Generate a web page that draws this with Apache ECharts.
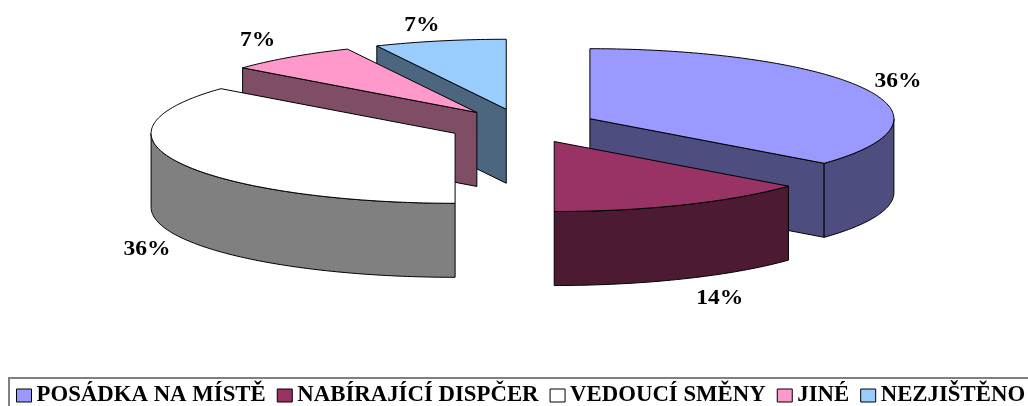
<!DOCTYPE html>
<html>
<head>
<meta charset="utf-8">
<style>html,body{margin:0;padding:0;background:#fff;overflow:hidden}#chart{width:1028px;height:406px}</style>
<script src="https://cdn.jsdelivr.net/npm/echarts@6/dist/echarts.min.js"></script>
</head>
<body>
<div id="chart"></div>
<script>
// Share of each responder category, in percent.
const categories = ['POSÁDKA NA MÍSTĚ', 'NABÍRAJÍCÍ DISPČER', 'VEDOUCÍ SMĚNY', 'JINÉ', 'NEZJIŠTĚNO'];
const shares = [36, 14, 36, 7, 7];

const topColors = ['#9999FF', '#993366', '#FFFFFF', '#FF99CC', '#99CCFF'];
const wallColors = ['#4D4D80', '#4D1A33', '#808080', '#804D66', '#4D6680'];
// Back-to-front painting order of the exploded slices.
const paintOrder = [3, 4, 2, 1, 0];
// Distance of each percentage label from the slice's outer rim, in pixels.
const labelOffsets = [[33, -7], [36, 20], [-33, 12], [-33, -17], [-18, -15]];

// Tilted-disc geometry: horizontal and vertical radius, centre, wall height, explosion.
const RX = 304, RY = 70, CX = 522.5, CY = 126, DEPTH = 74, EXPLODE = 0.245, SPAN = 1.3;
const total = shares.reduce(function (a, b) { return a + b; }, 0);

function renderSlice(index) {
  return function (params, api) {
    const before = shares.slice(0, index).reduce(function (a, b) { return a + b; }, 0);
    const a0 = before / total * 2 * Math.PI;
    const a1 = (before + api.value(0)) / total * 2 * Math.PI;
    const mid = (a0 + a1) / 2;
    const ox = EXPLODE * Math.sin(mid), oy = EXPLODE * Math.cos(mid);

    // Projects a point of the unit disc, angle clockwise from twelve o'clock.
    const rim = function (a) { return api.coord([ox + Math.sin(a), oy + Math.cos(a)]); };
    const apex = api.coord([ox, oy]);
    const drop = function (p) { return [p[0], p[1] + DEPTH]; };
    const arc = function (from, to) {
      const pts = [], n = Math.max(2, Math.ceil((to - from) / (Math.PI / 180)));
      for (let i = 0; i <= n; i++) pts.push(rim(from + (to - from) * i / n));
      return pts;
    };
    const lineStyle = { stroke: '#000', lineWidth: 1, lineJoin: 'round' };
    const poly = function (points, fill) {
      return { type: 'polygon', shape: { points: points }, style: Object.assign({ fill: fill }, lineStyle) };
    };
    const wall = wallColors[index];
    const children = [];

    // Cut faces that turn toward the viewer.
    if (a0 > Math.PI + 1e-6) {
      const p = rim(a0);
      children.push(poly([p, apex, drop(apex), drop(p)], wall));
    }
    if (a1 < Math.PI - 1e-6) {
      const p = rim(a1);
      children.push(poly([apex, p, drop(p), drop(apex)], wall));
    }
    // Outer wall on the front half of the disc.
    const f0 = Math.max(a0, Math.PI / 2), f1 = Math.min(a1, 3 * Math.PI / 2);
    if (f1 > f0) {
      const front = arc(f0, f1);
      children.push(poly(front.concat(front.map(drop).reverse()), wall));
    }
    // Top face.
    children.push(poly([apex].concat(arc(a0, a1)), topColors[index]));

    // Percentage label.
    const anchor = rim(mid);
    const inFront = Math.cos(mid) < 0 ? DEPTH : 0;
    children.push({
      type: 'text',
      x: anchor[0] + labelOffsets[index][0],
      y: anchor[1] + inFront + labelOffsets[index][1],
      scaleX: 1.12,
      style: {
        text: api.value(0) + '%',
        font: 'bold 21px "Liberation Serif", serif',
        fill: '#000',
        align: 'center',
        verticalAlign: 'middle'
      }
    });
    return { type: 'group', children: children };
  };
}

const chart = echarts.init(document.getElementById('chart'), null, { renderer: 'canvas' });
chart.setOption({
  animation: false,
  backgroundColor: '#fff',
  grid: {
    left: CX - SPAN * RX, width: 2 * SPAN * RX,
    top: CY - SPAN * RY, height: 2 * SPAN * RY,
    containLabel: false
  },
  xAxis: { type: 'value', min: -SPAN, max: SPAN, show: false },
  yAxis: { type: 'value', min: -SPAN, max: SPAN, show: false },
  legend: {
    left: 9, top: 378,
    width: 1200,
    padding: [6, 40, 30, 7],
    itemWidth: 15, itemHeight: 13, itemGap: 11,
    icon: 'rect',
    selectedMode: false,
    borderColor: '#808080', borderWidth: 2,
    itemStyle: { borderColor: '#000', borderWidth: 1 },
    textStyle: { fontFamily: '"Liberation Serif", serif', fontWeight: 'bold', fontSize: 22.8, color: '#000' },
    data: categories
  },
  series: categories.map(function (name, i) {
    return {
      type: 'custom',
      name: name,
      coordinateSystem: 'cartesian2d',
      z: paintOrder[i],
      itemStyle: { color: topColors[i] },
      renderItem: renderSlice(i),
      data: [[shares[i]]],
      encode: { x: -1, y: -1 },
      silent: true
    };
  })
});
</script>
</body>
</html>
